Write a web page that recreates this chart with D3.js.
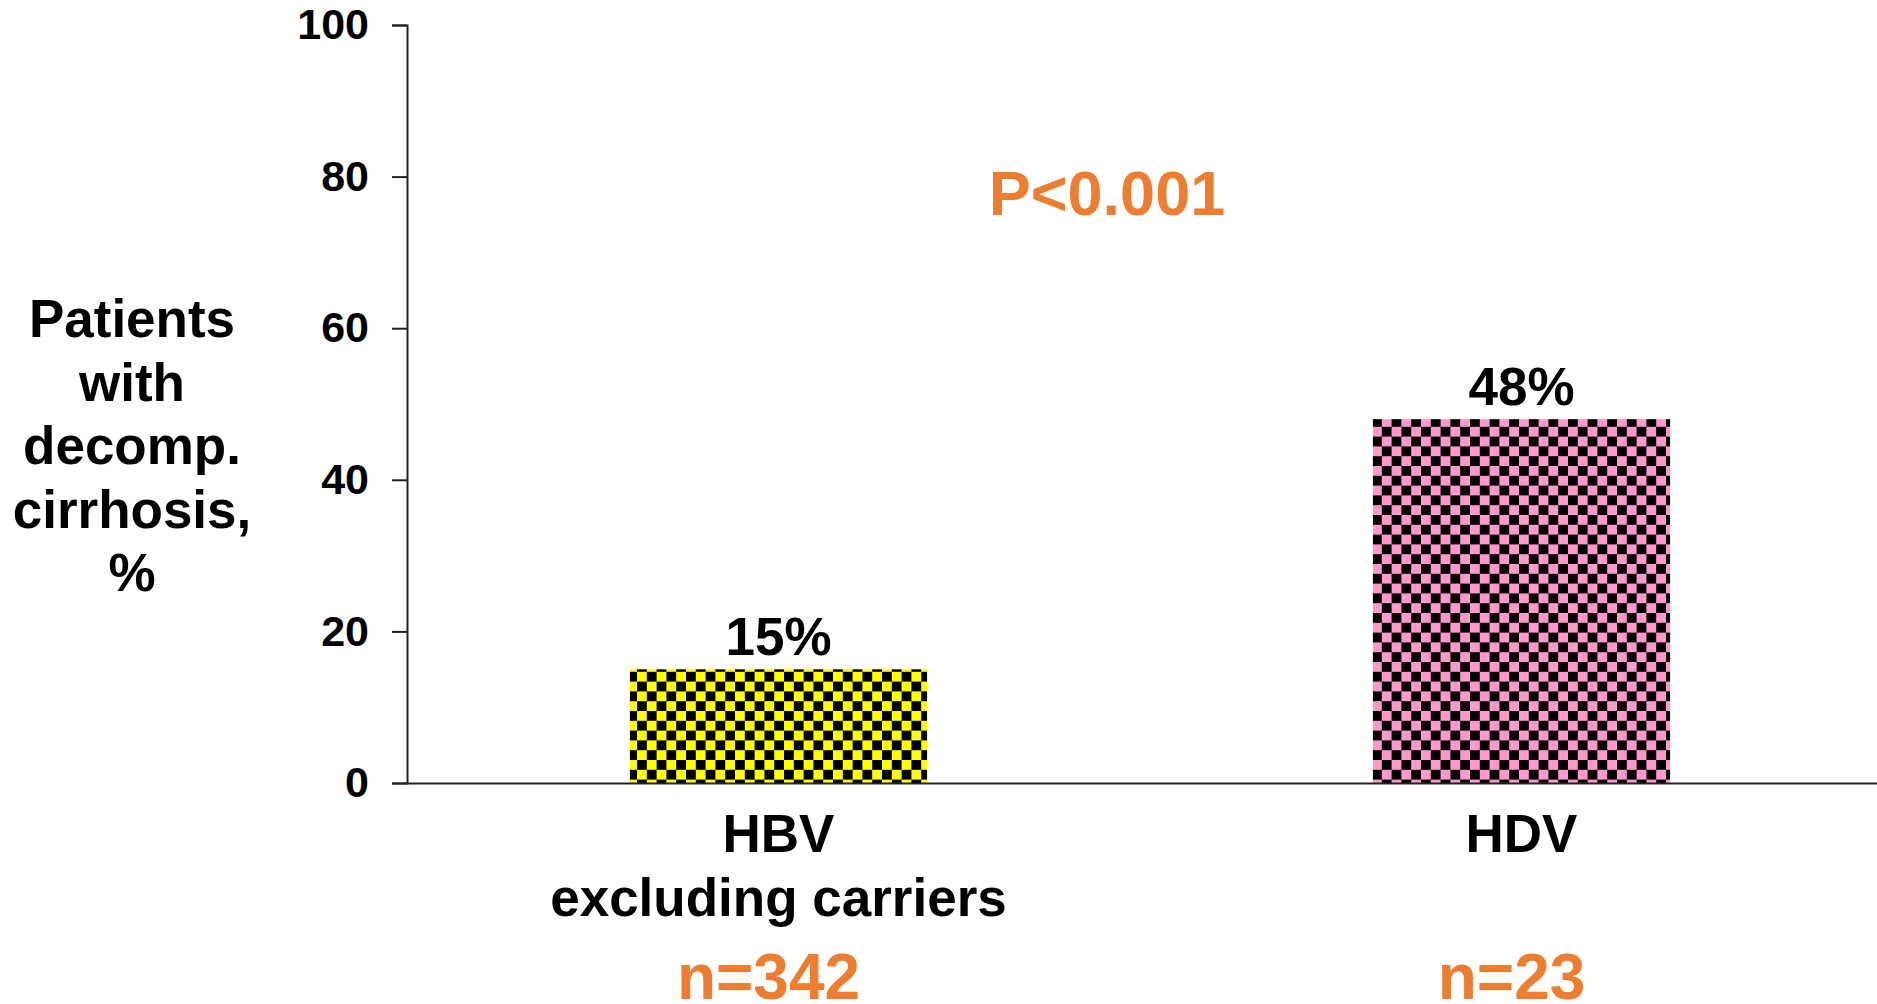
<!DOCTYPE html>
<html>
<head>
<meta charset="utf-8">
<script src="https://cdn.jsdelivr.net/npm/d3@7"></script>
<style>
  body { margin: 0; background: #fff; }
  text { font-family: "Liberation Sans", Arial, sans-serif; font-weight: bold; }
</style>
</head>
<body>
<script>
// Data
var groups = ["HBV", "HDV"];
var groupLines = [["HBV", "excluding carriers"], ["HDV"]];
var values = [15, 48];
var valueLabels = ["15%", "48%"];
var nLabels = ["n=342", "n=23"];
var yTicks = [0, 20, 40, 60, 80, 100];
var yTitle = ["Patients", "with", "decomp.", "cirrhosis,", "%"];
var pText = "P<0.001";

// Chart params
var svgWidth = 1877;
var svgHeight = 1004;
var margin = { top: 25, left: 407, bottom: 221 };
var plotRight = 1893;
var height = svgHeight - margin.top - margin.bottom; // 758

var orange = "#ED7D31";
var cell = 9.8;

var svg = d3.select("body")
  .append("svg")
  .attr("width", svgWidth)
  .attr("height", svgHeight);

// checker patterns
var defs = svg.append("defs");
function checker(id, color) {
  var p = defs.append("pattern")
    .attr("id", id)
    .attr("patternUnits", "userSpaceOnUse")
    .attr("width", cell * 2)
    .attr("height", cell * 2);
  p.append("rect").attr("width", cell * 2).attr("height", cell * 2).attr("fill", color);
  p.append("rect").attr("width", cell).attr("height", cell).attr("fill", "#000");
  p.append("rect").attr("x", cell).attr("y", cell).attr("width", cell).attr("height", cell).attr("fill", "#000");
}
checker("chkYellow", "#FFFF00");
checker("chkPink", "#FF99CC");
var fills = ["url(#chkYellow)", "url(#chkPink)"];

var chartGroup = svg.append("g")
  .attr("transform", `translate(0, ${margin.top})`);

// scales
var x = d3.scaleBand()
  .domain(groups)
  .range([margin.left, plotRight])
  .paddingInner(0.6)
  .paddingOuter(0.3);

var y = d3.scaleLinear()
  .domain([0, 100])
  .range([height, 0]);

// bars
chartGroup.selectAll(".bar")
  .data(values)
  .enter()
  .append("rect")
  .attr("class", "bar")
  .attr("x", (d, i) => x(groups[i]))
  .attr("y", d => y(d))
  .attr("width", x.bandwidth())
  .attr("height", d => height - y(d))
  .attr("fill", (d, i) => fills[i]);

// x axis (plain line)
var xAxis = chartGroup.append("g")
  .attr("transform", `translate(0, ${height})`)
  .call(d3.axisBottom(x).tickSize(0).tickFormat(""));
xAxis.select(".domain").attr("stroke", "#222").attr("stroke-width", 2);

// y axis
var yAxis = chartGroup.append("g")
  .attr("transform", `translate(${margin.left}, 0)`)
  .call(d3.axisLeft(y).tickValues(yTicks).tickSize(15).tickPadding(23));
yAxis.select(".domain").attr("stroke", "#222").attr("stroke-width", 2);
yAxis.selectAll(".tick line").attr("stroke", "#222").attr("stroke-width", 2);
yAxis.selectAll(".tick text")
  .attr("fill", "#000")
  .style("font-size", "43px")
  .style("font-family", "'Liberation Sans', Arial, sans-serif")
  .style("font-weight", "bold");

// value labels
chartGroup.selectAll(".vlabel")
  .data(values)
  .enter()
  .append("text")
  .attr("class", "vlabel")
  .attr("x", (d, i) => x(groups[i]) + x.bandwidth() / 2)
  .attr("y", d => y(d) - 14)
  .attr("text-anchor", "middle")
  .style("font-size", "53px")
  .text((d, i) => valueLabels[i]);

// category labels
groupLines.forEach(function(lines, i) {
  var cx = x(groups[i]) + x.bandwidth() / 2;
  lines.forEach(function(line, j) {
    svg.append("text")
      .attr("x", cx)
      .attr("y", 852 + j * 64)
      .attr("text-anchor", "middle")
      .style("font-size", "53px")
      .text(line);
  });
  svg.append("text")
    .attr("x", cx - 10)
    .attr("y", 999)
    .attr("text-anchor", "middle")
    .attr("fill", orange)
    .style("font-size", "64px")
    .text(nLabels[i]);
});

// p value
svg.append("text")
  .attr("x", 1107)
  .attr("y", margin.top + y(75))
  .attr("text-anchor", "middle")
  .attr("fill", orange)
  .style("font-size", "63px")
  .text(pText);

// y title
svg.append("g").selectAll("text")
  .data(yTitle)
  .enter()
  .append("text")
  .attr("x", 132)
  .attr("y", (d, i) => 337 + i * 63.5)
  .attr("text-anchor", "middle")
  .style("font-size", "53px")
  .text(d => d);
</script>
</body>
</html>
